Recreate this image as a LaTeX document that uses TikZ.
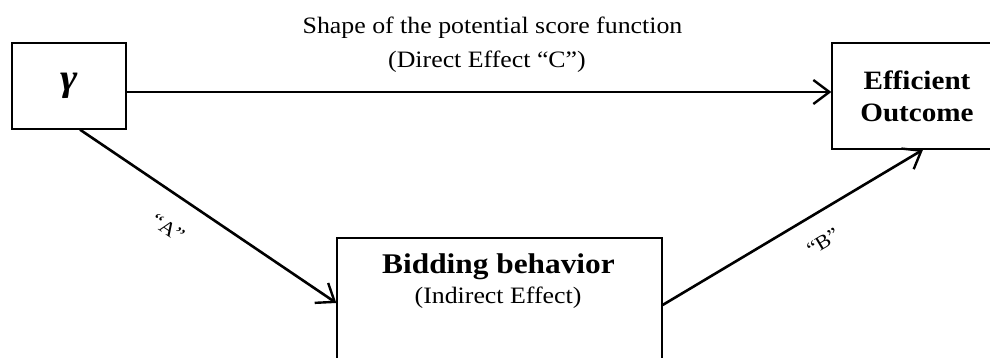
\documentclass[tikz,border=0pt]{standalone}
\usepackage{fontspec}
\setmainfont[FakeStretch=1.1]{Liberation Serif}
\usetikzlibrary{arrows.meta}
\begin{document}
\begin{tikzpicture}[x=1pt,y=-1pt,
  box/.style={draw, line width=1.3pt, inner sep=0pt},
  arr/.style={line width=2.6pt, -{Straight Barb[length=16pt,width=24pt,line width=2.4pt]}},
  lbl/.style={font=\fontsize{23.5}{26}\selectfont, inner sep=0pt},
  quote/.style={font=\fontsize{20}{22}\selectfont, inner sep=0pt}]
\useasboundingbox (0,0) rectangle (990,358);
\clip (0,0) rectangle (990,358);
\node[box, minimum width=114pt, minimum height=86pt] (gamma) at (69,86) {\fontsize{38}{38}\selectfont\bfseries\itshape γ};
\node[box, minimum width=170pt, minimum height=106pt, align=center,
      font=\fontsize{26.5}{32}\selectfont\bfseries] (eff) at (917,96) {Efficient\\Outcome};
\node[box, minimum width=325pt, minimum height=170pt] (bid) at (499.5,323) {};
\node[anchor=base, inner sep=0pt, font=\fontsize{28.5}{30}\selectfont\bfseries] (bidt) at (498.5,273) {Bidding behavior};
\node[anchor=base, lbl] (bids) at (498,303) {(Indirect Effect)};
\node[anchor=base, lbl] (lc1) at (492.5,34) {Shape of the potential score function};
\node[anchor=base, lbl] (lc2) at (487,68) {(Direct Effect “C”)};
\node[quote, rotate=-34] (la) at (168,228) {“A”};
\node[quote, rotate=31] (lb) at (823,242) {“B”};
\draw[arr] ([yshift=-6pt]gamma.east) -- ([yshift=-6pt]gamma.east -| eff.west);
\draw[arr] ([xshift=11pt]gamma.south) -- ([yshift=20pt]bid.west);
\draw[arr] ([yshift=18pt]bid.east) -- ([xshift=6pt]eff.south);
\end{tikzpicture}
\end{document}
